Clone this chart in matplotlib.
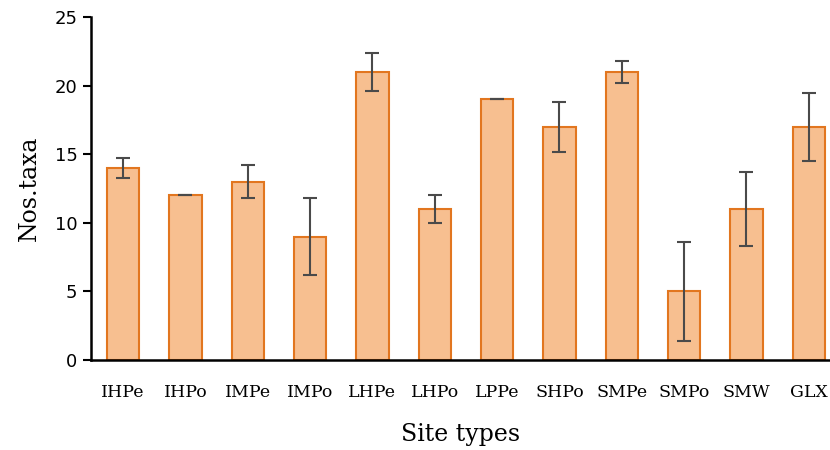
import numpy as np
import matplotlib.pyplot as plt

# 数据
site_types = ['IHPe', 'IHPo', 'IMPe', 'IMPo', 'LHPe', 'LHPo', 'LPPe',
              'SHPo', 'SMPe', 'SMPo', 'SMW', 'GLX']
nos_taxa = [14, 12, 13, 9, 21, 11, 19, 17, 21, 5, 11, 17]
err = [0.7, 0, 1.2, 2.8, 1.4, 1.0, 0, 1.8, 0.8, 3.6, 2.7, 2.5]
y_ticks = [0, 5, 10, 15, 20, 25]

fig = plt.figure(figsize=(8.3, 4.5), dpi=100)
ax = fig.add_axes([0.11, 0.2, 0.89, 0.762])

x = np.arange(len(site_types))
ax.bar(x, nos_taxa, width=0.52, color='#F7BF90', edgecolor='#E2761F', linewidth=1.5, zorder=2)
ax.errorbar(x, nos_taxa, yerr=err, fmt='none', ecolor='#4a4a4a', elinewidth=1.5,
            capsize=5, capthick=1.5, zorder=3)

ax.set_xlim(-0.51, 11.34)
ax.set_ylim(0, 25)
ax.set_yticks(y_ticks)
ax.set_xticks(x)
ax.set_xticklabels(site_types, family='DejaVu Serif', fontsize=12.5)
ax.tick_params(axis='x', length=0, pad=17)
ax.tick_params(axis='y', length=6, width=1.5, labelsize=13, pad=4)

for s in ['top', 'right']:
    ax.spines[s].set_visible(False)
for s in ['left', 'bottom']:
    ax.spines[s].set_linewidth(1.8)

ax.set_ylabel('Nos.taxa', family='DejaVu Serif', fontsize=17, labelpad=10)
ax.set_xlabel('Site types', family='DejaVu Serif', fontsize=17, labelpad=16)

plt.savefig('out.png', dpi=100)
plt.close()
